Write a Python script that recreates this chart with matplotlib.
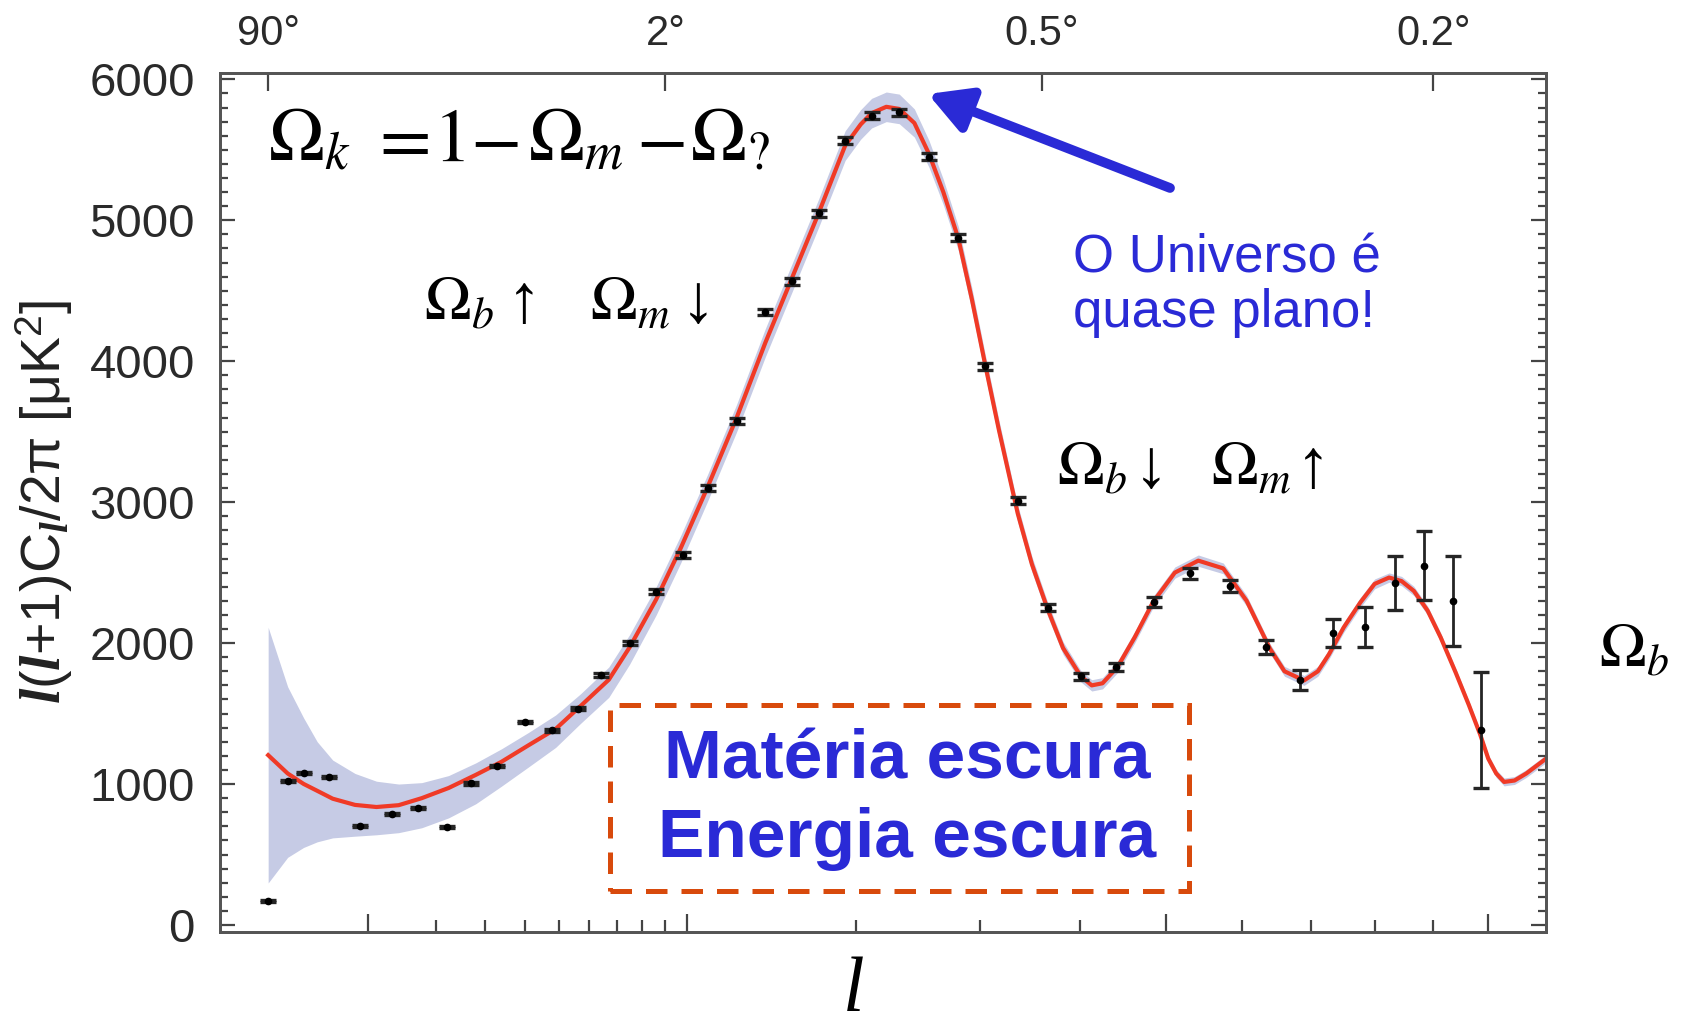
import numpy as np
import matplotlib
matplotlib.use("Agg")
from matplotlib import pyplot as plt
from matplotlib.ticker import MultipleLocator, FixedLocator, NullFormatter
from matplotlib.patches import Rectangle

plt.rcParams['font.family'] = ['Liberation Sans', 'DejaVu Sans']
plt.rcParams['mathtext.fontset'] = 'custom'
plt.rcParams['mathtext.rm'] = 'Liberation Sans'
plt.rcParams['mathtext.it'] = 'Liberation Serif:italic:bold'
plt.rcParams['mathtext.bf'] = 'Liberation Sans:bold'

# best-fit curve (multipole l, l(l+1)Cl/2pi in uK^2) and its shaded band
curve_l = [2, 3, 4, 5, 6.3, 8.5, 11, 14, 17.6, 22.4, 28, 34, 41, 49, 57, 67, 75, 86, 97, 110, 125,
           141, 157, 174, 192, 203, 211, 222, 232, 244, 256, 268, 281, 293, 305, 318, 336, 350,
           366, 382, 401, 413, 425, 442, 462, 484, 511, 541, 574, 606, 639, 660, 689, 710, 727,
           750, 777, 800, 824, 845, 866, 890, 913, 940, 964, 985, 1000, 1015, 1030, 1050, 1073, 1112]
curve_val = [1205, 1075, 1001, 952, 896, 852, 837, 850, 900, 972, 1065, 1158, 1274, 1391, 1553, 1740,
             1970, 2310, 2675, 3110, 3600, 4130, 4590, 5050, 5530, 5680, 5760, 5805, 5790, 5690,
             5470, 5200, 4870, 4440, 3980, 3510, 2920, 2560, 2240, 1965, 1765, 1700, 1715, 1830,
             2040, 2290, 2500, 2585, 2530, 2300, 1960, 1800, 1735, 1800, 1920, 2110, 2290, 2420,
             2465, 2440, 2370, 2230, 2040, 1790, 1560, 1350, 1180, 1075, 1015, 1025, 1075, 1180]
band_lo = [298, 480, 550, 590, 618, 630, 640, 655, 690, 760, 860, 985, 1120, 1260, 1430, 1615, 1850,
           2200, 2570, 3010, 3500, 4030, 4490, 4950, 5425, 5575, 5655, 5700, 5685, 5590, 5375,
           5110, 4785, 4360, 3905, 3440, 2860, 2505, 2190, 1920, 1725, 1660, 1675, 1790, 2000,
           2250, 2460, 2545, 2492, 2262, 1925, 1765, 1700, 1765, 1885, 2075, 2255, 2385, 2432,
           2407, 2337, 2198, 2008, 1760, 1530, 1320, 1150, 1047, 987, 997, 1047, 1152]
band_hi = [2112, 1690, 1470, 1300, 1170, 1075, 1020, 1000, 1010, 1060, 1150, 1250, 1365, 1490, 1640,
           1830, 2060, 2400, 2765, 3200, 3695, 4230, 4690, 5150, 5635, 5785, 5865, 5910, 5895,
           5790, 5565, 5290, 4955, 4520, 4055, 3580, 2980, 2615, 2290, 2010, 1805, 1740, 1755,
           1870, 2080, 2330, 2540, 2625, 2568, 2338, 1995, 1835, 1770, 1835, 1955, 2145, 2325,
           2455, 2498, 2473, 2403, 2262, 2072, 1820, 1590, 1380, 1210, 1103, 1043, 1053, 1103, 1208]

# binned measurements
pts_l = [2, 3, 4, 6, 9, 13, 17, 22, 27, 33, 40, 48, 56, 64, 75, 86, 98, 110, 125, 141, 157,
         174, 192, 211, 232, 256, 281, 305, 336, 366, 401, 440, 485, 530, 583, 633, 683, 733,
         784, 834, 884, 935, 987]
pts_val = [170, 1020, 1080, 1050, 700, 790, 830, 695, 1005, 1128, 1440, 1380, 1535, 1775, 2000,
           2365, 2625, 3100, 3575, 4350, 4566, 5050, 5565, 5740, 5765, 5450, 4875, 3965, 3010,
           2250, 1765, 1830, 2290, 2495, 2405, 1970, 1740, 2070, 2115, 2425, 2550, 2300, 1385]
pts_err = [8, 8, 8, 8, 8, 8, 8, 8, 10, 10, 10, 12, 12, 14, 15, 16, 18, 20, 22, 22, 22, 25, 25,
           25, 25, 25, 25, 25, 25, 25, 25, 30, 35, 40, 45, 50, 70, 100, 140, 190, 245, 320, 410]

top_l = [2, 90, 360, 900]
top_labels = ['90°', '2°', '0.5°', '0.2°']

blue = '#2a2ad6'

fig = plt.figure(figsize=(16.83, 10.25), dpi=100)
ax = fig.add_axes([0.1307, 0.0907, 0.7879, 0.8381])

fwd = lambda x: np.sign(x) * np.abs(x) ** 0.4
inv = lambda x: np.sign(x) * np.abs(x) ** 2.5
ax.set_xscale('function', functions=(fwd, inv))
ax.set_xlim(0.48, 1112)
ax.set_ylim(-50, 6045)

ax.fill_between(curve_l, band_lo, band_hi, color='#c6cbe5', lw=0, zorder=1)
ax.plot(curve_l, curve_val, color='#f03a26', lw=3, zorder=2)
ax.errorbar(pts_l, pts_val, yerr=pts_err, fmt='o', ms=4.5, color='black', ecolor='#252525',
            elinewidth=2, capsize=5.5, capthick=2.4, zorder=3)

# axes styling
for s in ax.spines.values():
    s.set_color('#555555')
    s.set_linewidth(2)
ax.xaxis.set_major_locator(FixedLocator([10, 100, 500, 1000]))
ax.xaxis.set_minor_locator(FixedLocator([20, 30, 40, 50, 60, 70, 80, 90,
                                         200, 300, 400, 600, 700, 800, 900]))
ax.xaxis.set_major_formatter(NullFormatter())
ax.xaxis.set_minor_formatter(NullFormatter())
ax.tick_params(axis='x', which='major', direction='in', length=13, width=1.6, color='#444444')
ax.tick_params(axis='x', which='minor', direction='in', length=9, width=1.6, color='#444444')
ax.yaxis.set_major_locator(MultipleLocator(1000))
ax.yaxis.set_minor_locator(MultipleLocator(100))
ax.yaxis.set_ticks_position('both')
ax.tick_params(axis='y', which='major', direction='in', length=11, width=1.6, color='#444444',
               labelsize=34, labelcolor='#2a2a2a', pad=18)
ax.tick_params(axis='y', which='minor', direction='in', length=6, width=1.6, color='#444444')

ax2 = ax.twiny()
ax2.set_xscale('function', functions=(fwd, inv))
ax2.set_xlim(ax.get_xlim())
ax2.set_xticks(top_l, labels=top_labels)
ax2.xaxis.set_minor_locator(FixedLocator([]))
ax2.tick_params(axis='x', direction='in', length=13, width=1.6, color='#444444',
                labelsize=30, labelcolor='#2a2a2a', pad=14)
for s in ax2.spines.values():
    s.set_color('#555555')
    s.set_linewidth(2)

# axis labels
fig.text(0.026, 0.51, r'$\mathit{l}(\mathit{l}\mathrm{+1)C}_{\mathit{l}}\mathrm{/2\pi\ [\mu K}^{2}\mathrm{]}$',
         rotation=90, ha='center', va='center', fontsize=40, color='#222222')
fig.text(0.507, 0.014, 'l', family='Liberation Serif', style='italic', fontsize=56,
         ha='center', va='baseline')

# main relation, piece by piece
st = dict(math_fontfamily='stix', fontsize=54, va='baseline', ha='left')
fig.text(0.159, 0.843, r'$\Omega_k$', **st)
fig.text(0.219, 0.843, r'$=$', **st)
fig.text(0.257, 0.843, r'$1$', **st)
fig.text(0.2790, 0.843, r'$-$', **st)
fig.text(0.314, 0.843, r'$\Omega_m$', **st)
fig.text(0.378, 0.843, r'$-$', **st)
fig.text(0.410, 0.843, r'$\Omega_?$', **st)

om = dict(math_fontfamily='stix', fontsize=45, va='baseline', ha='left')
ar = dict(family='Liberation Serif', fontsize=50, va='baseline', ha='center')
fig.text(0.252, 0.688, r'$\Omega_b$', **om)
fig.text(0.3115, 0.686, '↑', **ar)
fig.text(0.3507, 0.688, r'$\Omega_m$', **om)
fig.text(0.4150, 0.686, '↓', **ar)
fig.text(0.628, 0.527, r'$\Omega_b$', **om)
fig.text(0.6840, 0.525, '↓', **ar)
fig.text(0.7194, 0.527, r'$\Omega_m$', **om)
fig.text(0.7800, 0.525, '↑', **ar)
fig.text(0.950, 0.3487, r'$\Omega_b$', **om)

fig.text(0.6375, 0.748, 'O Universo é', color=blue, fontsize=38, ha='left', va='center')
fig.text(0.6375, 0.695, 'quase plano!', color=blue, fontsize=38, ha='left', va='center')
ax.annotate('', xy=(0.5514, 0.9083), xycoords='figure fraction',
            xytext=(0.6952, 0.8166), textcoords='figure fraction',
            arrowprops=dict(arrowstyle='-|>,head_length=1.0,head_width=0.55', lw=7,
                            color=blue, mutation_scale=25, shrinkA=0, shrinkB=0))

box = Rectangle((0.3624, 0.1307), 0.3441, 0.1815, transform=fig.transFigure, fill=False,
                edgecolor='#d84a0c', lw=3.6, linestyle=(0, (4.3, 2.8)), zorder=5)
fig.patches.append(box)
fig.text(0.539, 0.258, 'Matéria escura', color=blue, fontsize=50, fontweight='bold',
         ha='center', va='center')
fig.text(0.539, 0.181, 'Energia escura', color=blue, fontsize=50, fontweight='bold',
         ha='center', va='center')

fig.savefig('out.png', dpi=100)
